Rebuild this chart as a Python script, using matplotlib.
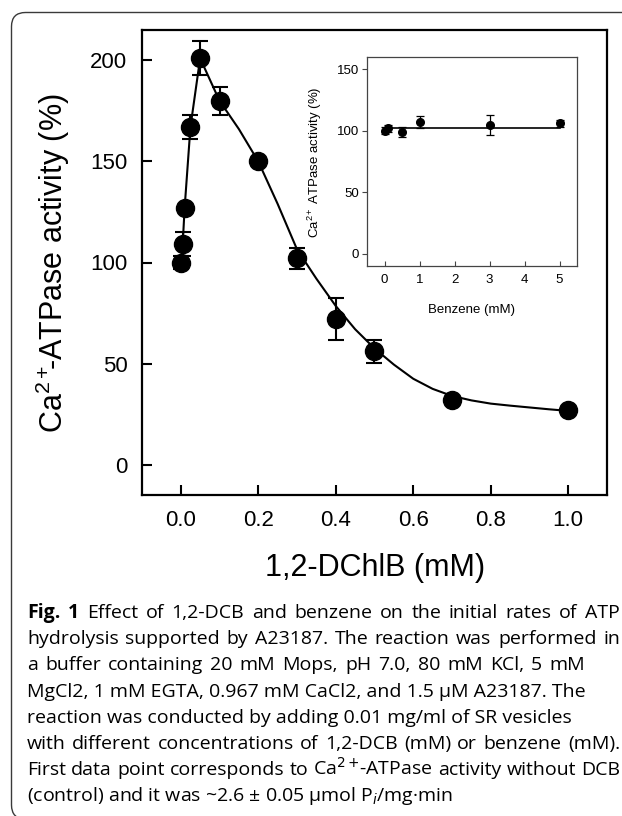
"""Fig. 1 — Ca2+-ATPase activity vs 1,2-DCB, with benzene inset and caption."""
import matplotlib
matplotlib.use("Agg")
import matplotlib.pyplot as plt
from matplotlib.patches import FancyBboxPatch

plt.rcParams["font.family"] = ["Liberation Sans", "DejaVu Sans"]
plt.rcParams["mathtext.fontset"] = "custom"
plt.rcParams["mathtext.rm"] = "Liberation Sans"
plt.rcParams["mathtext.it"] = "Liberation Sans:italic"
plt.rcParams["mathtext.bf"] = "Liberation Sans:bold"

# ---------------------------------------------------------------------------
# Data
# ---------------------------------------------------------------------------

# main panel: 1,2-DCB
dcb_mm = [0, 0.005, 0.01, 0.025, 0.05, 0.1, 0.2, 0.3, 0.4, 0.5, 0.7, 1.0]
dcb_act = [100, 109, 127, 167, 201, 180, 150, 102, 72, 56, 32, 27]
dcb_err = [3, 6, 0, 6, 8.5, 7, 0, 5, 10.5, 5.8, 0, 0]

# fitted curve
dcb_fit_mm = [0, 0.005, 0.01, 0.025, 0.05, 0.1, 0.15, 0.2, 0.25, 0.3, 0.35,
              0.4, 0.45, 0.5, 0.55, 0.6, 0.65, 0.7, 0.75, 0.8, 0.85, 0.9,
              0.95, 1.0]
dcb_fit_act = [100, 109, 127, 167, 201, 180, 166, 150, 129, 106.5, 92,
               78.5, 67, 57.5, 49.5, 42.5, 37.5, 34, 31.8, 30.2, 29.2, 28.3,
               27.4, 26.6]

dcb_xticks = [0.0, 0.2, 0.4, 0.6, 0.8, 1.0]
dcb_yticks = [0, 50, 100, 150, 200]

# inset: benzene
benz_mm = [0, 0.1, 0.5, 1, 3, 5]
benz_act = [100, 102, 99, 107, 104.5, 106]
benz_err = [3, 3, 4, 5, 8, 3]
benz_fit_mm = [0, 5]
benz_fit_act = [102.5, 102.5]

benz_xticks = [0, 1, 2, 3, 4, 5]
benz_yticks = [0, 50, 100, 150]

caption_lines = [
    "Fig. 1 Effect of 1,2-DCB and benzene on the initial rates of ATP",
    "hydrolysis supported by A23187. The reaction was performed in",
    "a buffer containing 20 mM Mops, pH 7.0, 80 mM KCl, 5 mM",
    "MgCl2, 1 mM EGTA, 0.967 mM CaCl2, and 1.5 \u03bcM A23187. The",
    "reaction was conducted by adding 0.01 mg/ml of SR vesicles",
    "with different concentrations of 1,2-DCB (mM) or benzene (mM).",
    "First data point corresponds to Ca$^{2+}\\!$-ATPase activity without DCB",
    "(control) and it was ~2.6 \u00b1 0.05 \u03bcmol P$_{i}$/mg\u00b7min",
]
# right edge (px) a line is stretched to; None = natural width
line_right = [620, 620, 585, None, None, 620, 620, None]
bold_words = {"Fig.", "1"}

# ---------------------------------------------------------------------------
# Layout helpers (pixel coordinates, origin top-left)
# ---------------------------------------------------------------------------

W, H = 622, 816
fig = plt.figure(figsize=(W / 100, H / 100), dpi=100)


def _box(left, top, right, bottom):
    return [left / W, 1 - bottom / H, (right - left) / W, (bottom - top) / H]


def _fx(x):
    return x / W


def _fy(y):
    return 1 - y / H


# outer rounded frame (right and bottom edges fall outside the crop)
frame = FancyBboxPatch((0.115, -0.03), 6.5, 8.065,
                       boxstyle="round,pad=0,rounding_size=0.14",
                       transform=fig.dpi_scale_trans, fill=False,
                       edgecolor="#3a3a3a", linewidth=1.0, clip_on=False)
fig.add_artist(frame)

# ---------------------------------------------------------------------------
# Main panel
# ---------------------------------------------------------------------------

ax = fig.add_axes(_box(142, 30, 607, 495))
ax.plot(dcb_fit_mm, dcb_fit_act, color="black", linewidth=1.5, zorder=2)
ax.errorbar(dcb_mm, dcb_act, yerr=dcb_err, fmt="o", color="black",
            markersize=13, capsize=6, capthick=1.5, elinewidth=1.5, zorder=3)
ax.set_xlim(-0.1, 1.1)
ax.set_ylim(-15, 215)
ax.set_xticks(dcb_xticks)
ax.set_xticklabels([f"{t:.1f}" for t in dcb_xticks])
ax.set_yticks(dcb_yticks)
ax.tick_params(direction="in", length=7, width=1.5, labelsize=16, pad=10.5)
for s in ax.spines.values():
    s.set_linewidth(1.6)

fig.text(_fx(53), _fy(263), "Ca$^{2+}\\!\\!$-ATPase activity (%)", rotation=90,
         ha="center", va="center", fontsize=22)
fig.text(_fx(375), _fy(568), "1,2-DChlB (mM)", ha="center", va="center",
         fontsize=22)

# ---------------------------------------------------------------------------
# Inset
# ---------------------------------------------------------------------------

axi = fig.add_axes(_box(367, 57, 577, 266))
axi.plot(benz_fit_mm, benz_fit_act, color="black", linewidth=1.2, zorder=2)
axi.errorbar(benz_mm, benz_act, yerr=benz_err, fmt="o", color="black",
             markersize=5.5, capsize=3, capthick=0.9, elinewidth=0.9, zorder=3)
axi.set_xlim(-0.5, 5.5)
axi.set_ylim(-10, 160)
axi.set_xticks(benz_xticks)
axi.set_yticks(benz_yticks)
axi.tick_params(axis="x", direction="in", length=3.5, width=0.8,
                labelsize=9.5, pad=6, color="#444444")
axi.tick_params(axis="y", direction="out", length=3.5, width=0.8,
                labelsize=9.5, pad=2, color="#444444")
for s in axi.spines.values():
    s.set_linewidth(0.9)
    s.set_color("#444444")

fig.text(_fx(315), _fy(162), "Ca$^{2+}$ ATPase activity (%)", rotation=90,
         ha="center", va="center", fontsize=9.5)
fig.text(_fx(472), _fy(310), "Benzene (mM)", ha="center", va="center",
         fontsize=9.5)

# ---------------------------------------------------------------------------
# Caption (stretched lines placed word by word)
# ---------------------------------------------------------------------------

CAP_FONT = ["Open Sans", "DejaVu Sans"]
CAP_SIZE = 14
CAP_LEFT = 27
CAP_BASE, CAP_STEP = 618, 26.2

renderer = fig.canvas.get_renderer()


def _cap_text(x, y, s, weight="normal"):
    return fig.text(x, y, s, family=CAP_FONT, fontsize=CAP_SIZE, weight=weight,
                    math_fontfamily="dejavusans", va="baseline", ha="left")


def _word_width(word, weight):
    t = _cap_text(0, 0, word, weight)
    w = t.get_window_extent(renderer).width
    t.remove()
    return w


for i, line in enumerate(caption_lines):
    y = _fy(CAP_BASE + i * CAP_STEP)
    words = line.split(" ")
    weights = ["bold" if (i == 0 and k < 2 and w in bold_words) else "normal"
               for k, w in enumerate(words)]
    if line_right[i] is None:
        _cap_text(_fx(CAP_LEFT), y, line)
        continue
    widths = [_word_width(w, wt) for w, wt in zip(words, weights)]
    gap = (line_right[i] - CAP_LEFT - sum(widths)) / (len(words) - 1)
    x = CAP_LEFT
    for w, wt, wd in zip(words, weights, widths):
        _cap_text(_fx(x), y, w, wt)
        x += wd + gap

fig.savefig("out.png", dpi=100)
